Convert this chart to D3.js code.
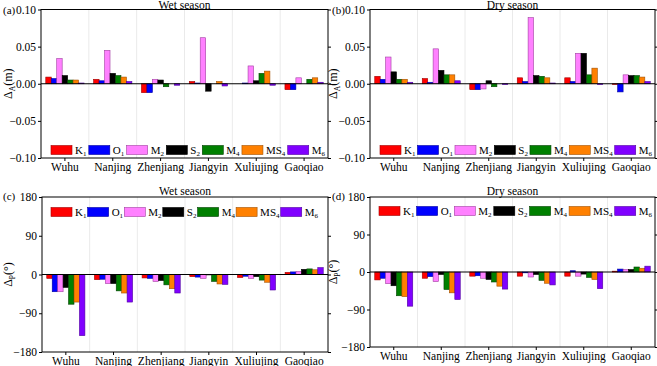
<!DOCTYPE html>
<html><head><meta charset="utf-8">
<script src="https://cdn.jsdelivr.net/npm/d3@7"></script>
<style>
body{margin:0;background:#fff}
svg text{font-family:"Liberation Serif","Times New Roman",Times,serif;fill:#000}
</style>
</head><body>
<svg id="chart" width="657" height="366"></svg>
<script>
const stations = ["Wuhu","Nanjing","Zhenjiang","Jiangyin","Xuliujing","Gaoqiao"];
const constBase = ["K","O","M","S","M","MS","M"];
const constSub  = ["1","1","2","2","4","4","6"];
const constColors = ["#ff0000","#0000ff","#ff80ff","#000000","#008000","#ff8000","#8000ff"];
const constStroke = ["#a00000","#0000a0","#a040a0","#000000","#004000","#a05000","#5000a0"];
const ampTicks = [-0.10,-0.05,0.00,0.05,0.10];
const phaseTicks = [-180,-90,0,90,180];

// rows = stations, columns = K1,O1,M2,S2,M4,MS4,M6
const ampWet = [
 [0.009,0.007,0.034,0.011,0.005,0.005,0.001],
 [0.006,0.004,0.045,0.014,0.011,0.009,0.003],
 [-0.012,-0.012,0.006,0.005,-0.004,0.000,-0.002],
 [0.003,0.001,0.062,-0.010,0.000,0.003,-0.003],
 [0.000,0.001,0.024,0.004,0.014,0.017,-0.002],
 [-0.008,-0.008,0.008,0.000,0.006,0.008,0.002]
];
const ampDry = [
 [0.010,0.006,0.036,0.016,0.006,0.006,0.002],
 [0.007,0.002,0.047,0.018,0.012,0.012,0.004],
 [-0.008,-0.008,-0.007,0.004,-0.004,0.000,-0.001],
 [0.008,0.003,0.089,0.011,0.010,0.008,0.001],
 [0.008,0.003,0.041,0.041,0.012,0.021,-0.001],
 [-0.001,-0.011,0.012,0.011,0.011,0.009,0.003]
];
const phaseWet = [
 [-9,-40,-40,-30,-69,-64,-142],
 [-12,-11,-21,-21,-38,-43,-64],
 [-8,-9,-16,-14,-24,-33,-43],
 [-5,-6,-9,-1,-16,-22,-23],
 [-7,-4,-9,-5,-13,-18,-36],
 [5,6,7,12,13,11,16]
];
const phaseDry = [
 [-19,-15,-28,-33,-57,-59,-82],
 [-15,-11,-23,-6,-42,-50,-66],
 [-10,-9,-15,-18,-24,-34,-41],
 [-10,-2,-12,-6,-20,-27,-31],
 [-10,3,-10,-5,-13,-18,-40],
 [2,7,6,6,12,9,14]
];

const svg = d3.select("#chart");

const panels = [
 {data:ampWet, x0:41, x1:328, y0:9.5, y1:158, domain:[-0.1,0.1], ticks:ampTicks, fmt:d3.format(".2f"),
  title:"Wet season", titleY:8.5, tag:"(a)", tagX:3, tagY:14, ySub:"A", yUnit:"(m)", yLabX:12,
  legX:51, legW:274, legY:150},
 {data:ampDry, x0:370, x1:655, y0:9.5, y1:158, domain:[-0.1,0.1], ticks:ampTicks, fmt:d3.format(".2f"),
  title:"Dry season", titleY:8.5, tag:"(b)", tagX:332, tagY:14, ySub:"A", yUnit:"(m)", yLabX:337,
  legX:380, legW:272, legY:150},
 {data:phaseWet, x0:42, x1:328, y0:197, y1:352, domain:[-180,180], ticks:phaseTicks, fmt:d3.format("d"),
  title:"Wet season", titleY:195, tag:"(c)", tagX:3, tagY:200, ySub:"P", yUnit:"(°)", yLabX:12,
  legX:51, legW:267, legY:212},
 {data:phaseDry, x0:370, x1:655, y0:197, y1:347, domain:[-180,180], ticks:phaseTicks, fmt:d3.format("d"),
  title:"Dry season", titleY:195, tag:"(d)", tagX:332, tagY:200, ySub:"P", yUnit:"(°)", yLabX:337,
  legX:379, legW:273, legY:211}
];

panels.forEach(p => {
  const g = svg.append("g");
  const x0 = d3.scaleBand().domain(stations).range([p.x0, p.x1]).padding(0);
  const bw = x0.bandwidth();
  const x1 = d3.scaleBand().domain(d3.range(constBase.length)).range([bw*0.1, bw*0.9]).padding(0);
  const y = d3.scaleLinear().domain(p.domain).range([p.y1, p.y0]);

  // group separators
  g.selectAll("line.sep").data(stations.slice(1)).join("line")
    .attr("x1", d => x0(d)).attr("x2", d => x0(d))
    .attr("y1", p.y0).attr("y2", p.y1)
    .attr("stroke", "#e4e4e4").attr("stroke-width", 0.8);

  // bars
  stations.forEach((s, si) => {
    g.selectAll(null).data(p.data[si]).join("rect")
      .attr("x", (d, i) => x0(s) + x1(i))
      .attr("width", x1.bandwidth())
      .attr("y", d => y(Math.max(0, d)))
      .attr("height", d => Math.abs(y(d) - y(0)))
      .attr("fill", (d, i) => constColors[i])
      .attr("stroke", (d, i) => constStroke[i])
      .attr("stroke-width", 0.6);
  });

  // zero line
  g.append("line").attr("x1", p.x0).attr("x2", p.x1).attr("y1", y(0)).attr("y2", y(0))
    .attr("stroke", "#000").attr("stroke-width", 1);

  // left axis
  const yAx = g.append("g").attr("transform", `translate(${p.x0},0)`)
    .call(d3.axisLeft(y).tickValues(p.ticks).tickFormat(p.fmt).tickSize(3).tickPadding(2));
  yAx.select(".domain").remove();
  yAx.selectAll("text").style("font-size", "11.5px").style("font-family", "Liberation Serif");

  // right ticks
  const yAxR = g.append("g").attr("transform", `translate(${p.x1},0)`)
    .call(d3.axisRight(y).tickValues(p.ticks).tickFormat("").tickSize(3));
  yAxR.select(".domain").remove();

  // bottom axis
  const xAx = g.append("g").attr("transform", `translate(0,${p.y1})`)
    .call(d3.axisBottom(x0).tickSize(3).tickPadding(2));
  xAx.select(".domain").remove();
  xAx.selectAll("text").style("font-size", "11.5px").style("font-family", "Liberation Serif");

  // frame
  g.append("rect").attr("x", p.x0).attr("y", p.y0).attr("width", p.x1 - p.x0).attr("height", p.y1 - p.y0)
    .attr("fill", "none").attr("stroke", "#000").attr("stroke-width", 1);

  // title
  g.append("text").attr("x", (p.x0 + p.x1) / 2).attr("y", p.titleY).attr("text-anchor", "middle")
    .style("font-size", "11.5px").text(p.title);
  // panel tag
  g.append("text").attr("x", p.tagX).attr("y", p.tagY).style("font-size", "11px").text(p.tag);

  // y label
  const yl = g.append("text")
    .attr("transform", `translate(${p.yLabX},${(p.y0 + p.y1) / 2}) rotate(-90)`)
    .attr("text-anchor", "middle").style("font-size", "12px");
  yl.append("tspan").text("Δ");
  yl.append("tspan").attr("dy", 3).style("font-size", "7.5px").text(p.ySub);
  yl.append("tspan").attr("dy", -3).text(p.yUnit);

  // legend: swatch + label, spread to fit legW
  const leg = g.append("g");
  const items = constBase.map((b, i) => {
    const t = leg.append("text").attr("y", p.legY + 4).style("font-size", "11px");
    t.append("tspan").text(b);
    t.append("tspan").attr("dy", 2).style("font-size", "7px").text(constSub[i]);
    return {t, w: t.node().getComputedTextLength(), i};
  });
  const sw = 21, sp = 3;
  const used = d3.sum(items, d => sw + sp + d.w);
  const gap = (p.legW - used) / (items.length - 1);
  let cx = p.legX;
  items.forEach(d => {
    leg.append("rect").attr("x", cx).attr("y", p.legY - 4.5).attr("width", sw).attr("height", 9)
      .attr("fill", constColors[d.i]).attr("stroke", constStroke[d.i]).attr("stroke-width", 0.6);
    d.t.attr("x", cx + sw + sp);
    cx += sw + sp + d.w + gap;
  });
});
</script>
</body></html>
